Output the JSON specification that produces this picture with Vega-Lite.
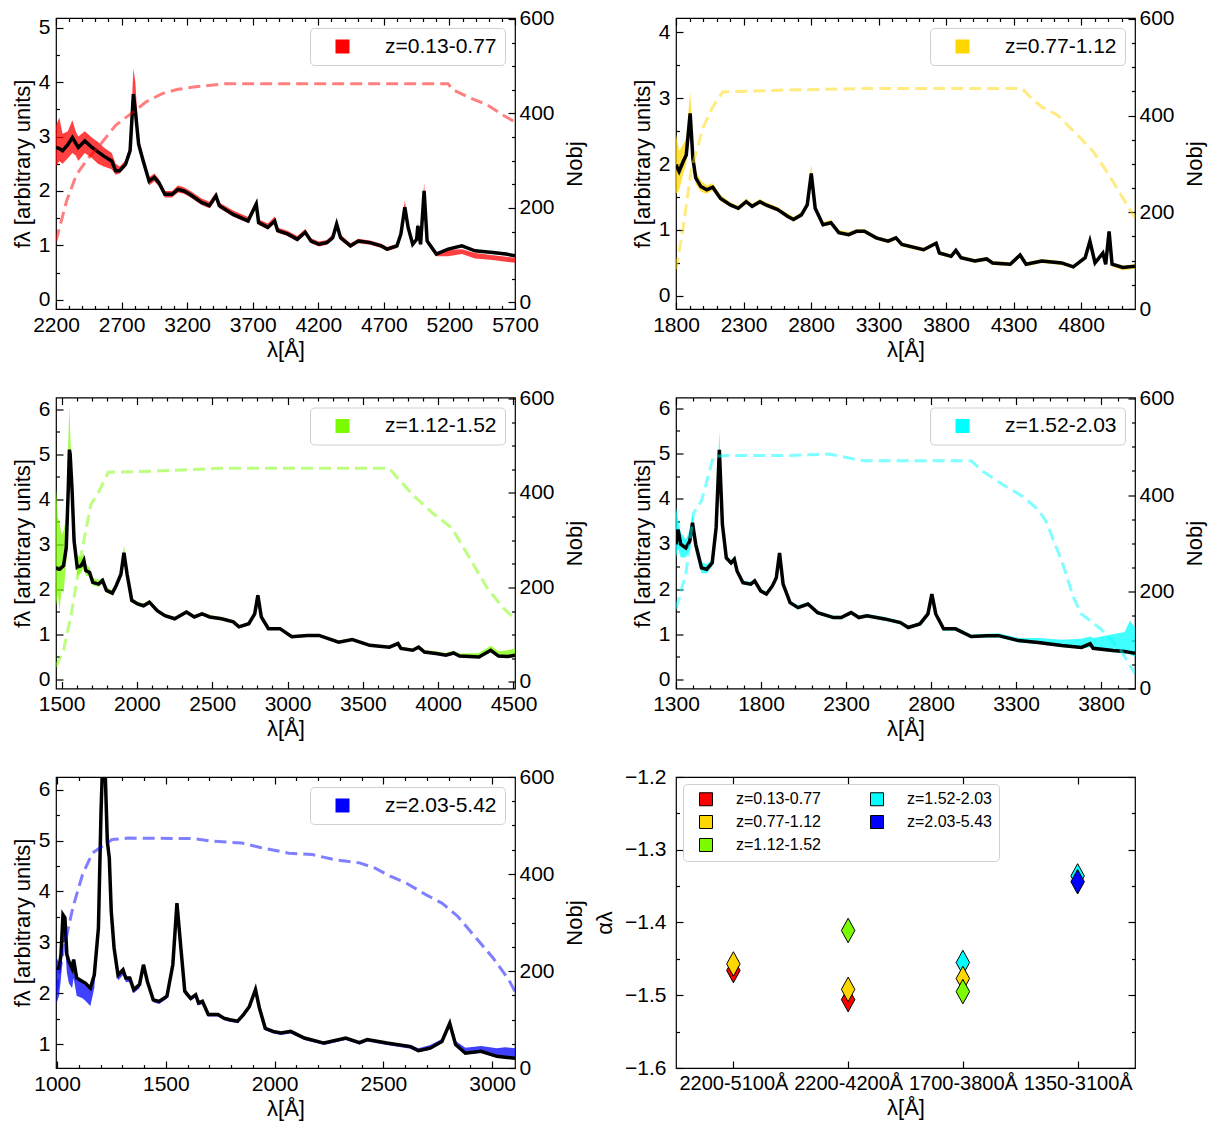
{
"$schema": "https://vega.github.io/schema/vega-lite/v6.json",
"padding": {"left": 10, "top": 7, "right": 5, "bottom": 5},
"config": {
  "font": "Liberation Sans",
  "view": {"stroke": "black", "strokeWidth": 1.2},
  "axis": {"domain": false, "grid": false, "tickColor": "black", "tickWidth": 1.2, "labelColor": "black", "titleColor": "black", "labelFont": "Liberation Sans", "titleFont": "Liberation Sans", "labelFontSize": 21, "titleFontSize": 22, "titleFontWeight": "normal", "labelFlush": false, "labelOverlap": false, "labelBound": false},
  "legend": {"labelColor": "black", "labelFont": "Liberation Sans"}
},
"datasets": {
"s1": [
{"x":2200,"y":2.80,"lo":2.45,"hi":3.20},{"x":2225,"y":2.78,"lo":2.55,"hi":3.35},{"x":2250,"y":2.74,"lo":2.50,"hi":3.05},{"x":2290,"y":2.85,"lo":2.60,"hi":3.10},{"x":2325,"y":2.98,"lo":2.70,"hi":3.30},{"x":2350,"y":2.88,"lo":2.65,"hi":3.10},{"x":2370,"y":2.80,"lo":2.55,"hi":3.00},{"x":2420,"y":2.92,"lo":2.70,"hi":3.10},{"x":2475,"y":2.80,"lo":2.60,"hi":2.98},{"x":2520,"y":2.72,"lo":2.50,"hi":2.90},{"x":2565,"y":2.64,"lo":2.45,"hi":2.80},{"x":2625,"y":2.55,"lo":2.40,"hi":2.70},{"x":2655,"y":2.37,"lo":2.30,"hi":2.50},{"x":2685,"y":2.37,"lo":2.32,"hi":2.45},{"x":2730,"y":2.49,"lo":2.44,"hi":2.56},{"x":2765,"y":2.74,"lo":2.65,"hi":2.85},{"x":2790,"y":3.78,"lo":3.60,"hi":4.25},{"x":2805,"y":3.47,"lo":3.35,"hi":4.00},{"x":2830,"y":2.86,"lo":2.80,"hi":3.00},{"x":2865,"y":2.55,"lo":2.50,"hi":2.62},{"x":2910,"y":2.18,"lo":2.10,"hi":2.25},{"x":2950,"y":2.25,"lo":2.18,"hi":2.32},{"x":2985,"y":2.15,"lo":2.08,"hi":2.22},{"x":3030,"y":1.94,"lo":1.88,"hi":2.00},{"x":3085,"y":1.94,"lo":1.88,"hi":2.00},{"x":3130,"y":2.03,"lo":1.97,"hi":2.10},{"x":3175,"y":2.00,"lo":1.95,"hi":2.07},{"x":3220,"y":1.94,"lo":1.89,"hi":2.01},{"x":3310,"y":1.79,"lo":1.74,"hi":1.86},{"x":3370,"y":1.73,"lo":1.68,"hi":1.80},{"x":3420,"y":1.91,"lo":1.85,"hi":1.98},{"x":3445,"y":1.73,"lo":1.68,"hi":1.79},{"x":3550,"y":1.57,"lo":1.53,"hi":1.64},{"x":3665,"y":1.45,"lo":1.41,"hi":1.52},{"x":3727,"y":1.76,"lo":1.70,"hi":1.82},{"x":3745,"y":1.42,"lo":1.38,"hi":1.48},{"x":3815,"y":1.33,"lo":1.29,"hi":1.40},{"x":3868,"y":1.45,"lo":1.41,"hi":1.53},{"x":3890,"y":1.27,"lo":1.23,"hi":1.33},{"x":3965,"y":1.21,"lo":1.17,"hi":1.27},{"x":4040,"y":1.11,"lo":1.07,"hi":1.17},{"x":4100,"y":1.24,"lo":1.20,"hi":1.30},{"x":4145,"y":1.08,"lo":1.04,"hi":1.13},{"x":4205,"y":1.02,"lo":0.98,"hi":1.07},{"x":4265,"y":1.05,"lo":1.01,"hi":1.10},{"x":4310,"y":1.14,"lo":1.10,"hi":1.20},{"x":4340,"y":1.39,"lo":1.35,"hi":1.46},{"x":4370,"y":1.14,"lo":1.10,"hi":1.20},{"x":4445,"y":0.99,"lo":0.95,"hi":1.04},{"x":4505,"y":1.08,"lo":1.04,"hi":1.12},{"x":4595,"y":1.05,"lo":1.01,"hi":1.09},{"x":4680,"y":0.99,"lo":0.95,"hi":1.03},{"x":4725,"y":0.93,"lo":0.89,"hi":0.97},{"x":4800,"y":0.99,"lo":0.95,"hi":1.03},{"x":4830,"y":1.21,"lo":1.17,"hi":1.27},{"x":4860,"y":1.70,"lo":1.66,"hi":1.82},{"x":4885,"y":1.33,"lo":1.30,"hi":1.42},{"x":4920,"y":1.02,"lo":0.98,"hi":1.06},{"x":4950,"y":1.11,"lo":1.07,"hi":1.15},{"x":4959,"y":1.36,"lo":1.32,"hi":1.42},{"x":4980,"y":1.02,"lo":0.98,"hi":1.06},{"x":5007,"y":2.00,"lo":1.96,"hi":2.15},{"x":5030,"y":1.08,"lo":1.02,"hi":1.12},{"x":5100,"y":0.84,"lo":0.80,"hi":0.88},{"x":5190,"y":0.93,"lo":0.80,"hi":0.92},{"x":5295,"y":0.99,"lo":0.84,"hi":0.93},{"x":5395,"y":0.90,"lo":0.76,"hi":0.86},{"x":5530,"y":0.87,"lo":0.73,"hi":0.82},{"x":5630,"y":0.84,"lo":0.70,"hi":0.79},{"x":5700,"y":0.81,"lo":0.68,"hi":0.77}
],
"n1": [
{"x":2200,"n":130},{"x":2280,"n":214},{"x":2355,"n":270},{"x":2445,"n":305},{"x":2535,"n":333},{"x":2655,"n":375},{"x":2775,"n":400},{"x":2890,"n":425},{"x":3010,"n":442},{"x":3130,"n":451},{"x":3250,"n":456},{"x":3490,"n":463},{"x":5190,"n":463},{"x":5220,"n":451},{"x":5340,"n":435},{"x":5490,"n":418},{"x":5610,"n":396},{"x":5700,"n":382}
],
"s2": [
{"x":1800,"y":1.99,"lo":1.55,"hi":2.45},{"x":1823,"y":1.89,"lo":1.60,"hi":2.20},{"x":1853,"y":2.04,"lo":1.85,"hi":2.30},{"x":1876,"y":2.14,"lo":2.00,"hi":2.40},{"x":1905,"y":2.77,"lo":2.60,"hi":3.10},{"x":1925,"y":2.09,"lo":1.95,"hi":2.30},{"x":1946,"y":1.79,"lo":1.70,"hi":1.90},{"x":1984,"y":1.66,"lo":1.58,"hi":1.75},{"x":2028,"y":1.61,"lo":1.55,"hi":1.68},{"x":2072,"y":1.65,"lo":1.60,"hi":1.71},{"x":2130,"y":1.48,"lo":1.44,"hi":1.53},{"x":2203,"y":1.38,"lo":1.35,"hi":1.42},{"x":2261,"y":1.33,"lo":1.30,"hi":1.37},{"x":2320,"y":1.43,"lo":1.40,"hi":1.48},{"x":2364,"y":1.36,"lo":1.33,"hi":1.40},{"x":2422,"y":1.43,"lo":1.40,"hi":1.47},{"x":2466,"y":1.38,"lo":1.35,"hi":1.42},{"x":2553,"y":1.31,"lo":1.28,"hi":1.35},{"x":2626,"y":1.21,"lo":1.18,"hi":1.25},{"x":2670,"y":1.16,"lo":1.13,"hi":1.20},{"x":2729,"y":1.23,"lo":1.20,"hi":1.27},{"x":2772,"y":1.38,"lo":1.35,"hi":1.43},{"x":2802,"y":1.86,"lo":1.82,"hi":2.00},{"x":2831,"y":1.33,"lo":1.30,"hi":1.38},{"x":2889,"y":1.08,"lo":1.05,"hi":1.12},{"x":2948,"y":1.11,"lo":1.08,"hi":1.15},{"x":3006,"y":0.96,"lo":0.93,"hi":1.00},{"x":3079,"y":0.93,"lo":0.90,"hi":0.97},{"x":3137,"y":0.98,"lo":0.95,"hi":1.01},{"x":3196,"y":0.98,"lo":0.95,"hi":1.01},{"x":3283,"y":0.88,"lo":0.85,"hi":0.91},{"x":3371,"y":0.83,"lo":0.80,"hi":0.86},{"x":3429,"y":0.88,"lo":0.85,"hi":0.91},{"x":3473,"y":0.78,"lo":0.75,"hi":0.81},{"x":3634,"y":0.70,"lo":0.67,"hi":0.73},{"x":3727,"y":0.80,"lo":0.77,"hi":0.83},{"x":3751,"y":0.65,"lo":0.62,"hi":0.68},{"x":3838,"y":0.60,"lo":0.57,"hi":0.63},{"x":3873,"y":0.69,"lo":0.66,"hi":0.72},{"x":3911,"y":0.58,"lo":0.55,"hi":0.61},{"x":4013,"y":0.53,"lo":0.50,"hi":0.56},{"x":4101,"y":0.56,"lo":0.53,"hi":0.59},{"x":4145,"y":0.50,"lo":0.47,"hi":0.53},{"x":4276,"y":0.48,"lo":0.45,"hi":0.51},{"x":4349,"y":0.62,"lo":0.59,"hi":0.65},{"x":4393,"y":0.48,"lo":0.45,"hi":0.51},{"x":4510,"y":0.53,"lo":0.50,"hi":0.56},{"x":4656,"y":0.50,"lo":0.47,"hi":0.53},{"x":4743,"y":0.44,"lo":0.41,"hi":0.47},{"x":4831,"y":0.58,"lo":0.55,"hi":0.61},{"x":4866,"y":0.83,"lo":0.80,"hi":0.86},{"x":4904,"y":0.50,"lo":0.47,"hi":0.53},{"x":4962,"y":0.65,"lo":0.62,"hi":0.68},{"x":4983,"y":0.48,"lo":0.45,"hi":0.51},{"x":5008,"y":0.98,"lo":0.95,"hi":1.00},{"x":5030,"y":0.48,"lo":0.44,"hi":0.51},{"x":5110,"y":0.43,"lo":0.39,"hi":0.46},{"x":5200,"y":0.45,"lo":0.41,"hi":0.48}
],
"n2": [
{"x":1800,"n":82},{"x":1853,"n":168},{"x":1911,"n":285},{"x":1999,"n":374},{"x":2072,"n":418},{"x":2145,"n":449},{"x":2612,"n":453},{"x":3196,"n":456},{"x":4364,"n":456},{"x":4437,"n":435},{"x":4510,"n":418},{"x":4627,"n":401},{"x":4773,"n":360},{"x":4890,"n":326},{"x":5006,"n":278},{"x":5094,"n":237},{"x":5200,"n":189}
],
"s3": [
{"x":1462,"y":2.48,"lo":1.60,"hi":4.30},{"x":1475,"y":2.45,"lo":1.90,"hi":3.60},{"x":1487,"y":2.44,"lo":1.50,"hi":3.50},{"x":1500,"y":2.48,"lo":2.00,"hi":3.20},{"x":1513,"y":2.52,"lo":1.90,"hi":3.30},{"x":1531,"y":2.92,"lo":2.60,"hi":3.60},{"x":1544,"y":4.18,"lo":3.80,"hi":5.20},{"x":1552,"y":5.10,"lo":4.80,"hi":6.10},{"x":1557,"y":5.00,"lo":4.70,"hi":5.50},{"x":1570,"y":4.18,"lo":3.90,"hi":4.40},{"x":1583,"y":3.07,"lo":2.85,"hi":3.40},{"x":1604,"y":2.48,"lo":2.30,"hi":2.75},{"x":1630,"y":2.52,"lo":2.35,"hi":2.70},{"x":1648,"y":2.64,"lo":2.50,"hi":2.80},{"x":1661,"y":2.41,"lo":2.30,"hi":2.55},{"x":1686,"y":2.37,"lo":2.28,"hi":2.48},{"x":1707,"y":2.15,"lo":2.08,"hi":2.25},{"x":1746,"y":2.11,"lo":2.05,"hi":2.20},{"x":1772,"y":2.19,"lo":2.12,"hi":2.26},{"x":1798,"y":1.97,"lo":1.92,"hi":2.04},{"x":1837,"y":1.91,"lo":1.87,"hi":1.97},{"x":1863,"y":2.08,"lo":2.03,"hi":2.14},{"x":1894,"y":2.33,"lo":2.28,"hi":2.40},{"x":1914,"y":2.81,"lo":2.75,"hi":2.98},{"x":1935,"y":2.33,"lo":2.28,"hi":2.40},{"x":1966,"y":1.75,"lo":1.71,"hi":1.80},{"x":2005,"y":1.67,"lo":1.63,"hi":1.72},{"x":2044,"y":1.63,"lo":1.59,"hi":1.68},{"x":2083,"y":1.71,"lo":1.67,"hi":1.76},{"x":2135,"y":1.52,"lo":1.48,"hi":1.57},{"x":2186,"y":1.41,"lo":1.38,"hi":1.45},{"x":2251,"y":1.34,"lo":1.31,"hi":1.38},{"x":2329,"y":1.49,"lo":1.46,"hi":1.53},{"x":2381,"y":1.38,"lo":1.35,"hi":1.42},{"x":2432,"y":1.45,"lo":1.42,"hi":1.49},{"x":2484,"y":1.38,"lo":1.35,"hi":1.42},{"x":2562,"y":1.34,"lo":1.31,"hi":1.38},{"x":2640,"y":1.27,"lo":1.24,"hi":1.31},{"x":2678,"y":1.16,"lo":1.13,"hi":1.20},{"x":2743,"y":1.23,"lo":1.20,"hi":1.27},{"x":2782,"y":1.45,"lo":1.42,"hi":1.50},{"x":2803,"y":1.86,"lo":1.82,"hi":1.95},{"x":2826,"y":1.38,"lo":1.35,"hi":1.43},{"x":2873,"y":1.12,"lo":1.09,"hi":1.16},{"x":2950,"y":1.12,"lo":1.09,"hi":1.16},{"x":3028,"y":0.94,"lo":0.91,"hi":0.98},{"x":3132,"y":0.97,"lo":0.94,"hi":1.00},{"x":3209,"y":0.97,"lo":0.94,"hi":1.00},{"x":3339,"y":0.82,"lo":0.79,"hi":0.86},{"x":3430,"y":0.88,"lo":0.85,"hi":0.91},{"x":3546,"y":0.75,"lo":0.72,"hi":0.78},{"x":3676,"y":0.71,"lo":0.68,"hi":0.74},{"x":3733,"y":0.79,"lo":0.76,"hi":0.82},{"x":3753,"y":0.68,"lo":0.65,"hi":0.71},{"x":3831,"y":0.64,"lo":0.61,"hi":0.68},{"x":3870,"y":0.71,"lo":0.68,"hi":0.75},{"x":3909,"y":0.60,"lo":0.57,"hi":0.64},{"x":3986,"y":0.57,"lo":0.54,"hi":0.62},{"x":4051,"y":0.53,"lo":0.50,"hi":0.58},{"x":4102,"y":0.58,"lo":0.55,"hi":0.63},{"x":4142,"y":0.51,"lo":0.48,"hi":0.57},{"x":4271,"y":0.49,"lo":0.46,"hi":0.58},{"x":4349,"y":0.64,"lo":0.60,"hi":0.74},{"x":4401,"y":0.51,"lo":0.48,"hi":0.62},{"x":4460,"y":0.50,"lo":0.47,"hi":0.64},{"x":4510,"y":0.53,"lo":0.49,"hi":0.68}
],
"n3": [
{"x":1462,"n":32},{"x":1513,"n":67},{"x":1565,"n":144},{"x":1630,"n":270},{"x":1694,"n":375},{"x":1746,"n":402},{"x":1811,"n":444},{"x":2122,"n":446},{"x":2536,"n":452},{"x":3676,"n":452},{"x":3702,"n":442},{"x":3831,"n":396},{"x":3961,"n":358},{"x":4090,"n":326},{"x":4194,"n":270},{"x":4323,"n":200},{"x":4427,"n":158},{"x":4510,"n":133}
],
"s4": [
{"x":1300,"y":2.99,"lo":2.70,"hi":3.80},{"x":1312,"y":3.32,"lo":2.90,"hi":3.55},{"x":1328,"y":2.99,"lo":2.70,"hi":3.25},{"x":1358,"y":2.91,"lo":2.70,"hi":3.10},{"x":1381,"y":3.06,"lo":2.90,"hi":3.30},{"x":1397,"y":3.47,"lo":3.30,"hi":3.65},{"x":1416,"y":2.99,"lo":2.80,"hi":3.15},{"x":1450,"y":2.47,"lo":2.35,"hi":2.60},{"x":1481,"y":2.44,"lo":2.35,"hi":2.55},{"x":1513,"y":2.58,"lo":2.50,"hi":2.66},{"x":1536,"y":3.36,"lo":3.25,"hi":3.50},{"x":1555,"y":5.08,"lo":4.90,"hi":5.50},{"x":1573,"y":3.43,"lo":3.35,"hi":3.55},{"x":1596,"y":2.69,"lo":2.63,"hi":2.76},{"x":1624,"y":2.58,"lo":2.53,"hi":2.64},{"x":1643,"y":2.66,"lo":2.61,"hi":2.72},{"x":1659,"y":2.40,"lo":2.35,"hi":2.46},{"x":1694,"y":2.14,"lo":2.10,"hi":2.19},{"x":1740,"y":2.11,"lo":2.07,"hi":2.16},{"x":1763,"y":2.18,"lo":2.14,"hi":2.23},{"x":1798,"y":1.96,"lo":1.92,"hi":2.01},{"x":1832,"y":1.89,"lo":1.85,"hi":1.94},{"x":1867,"y":2.07,"lo":2.03,"hi":2.12},{"x":1890,"y":2.25,"lo":2.21,"hi":2.30},{"x":1909,"y":2.80,"lo":2.75,"hi":2.85},{"x":1930,"y":2.11,"lo":2.07,"hi":2.16},{"x":1971,"y":1.70,"lo":1.66,"hi":1.75},{"x":2018,"y":1.59,"lo":1.55,"hi":1.64},{"x":2076,"y":1.67,"lo":1.63,"hi":1.71},{"x":2133,"y":1.48,"lo":1.44,"hi":1.52},{"x":2226,"y":1.37,"lo":1.33,"hi":1.41},{"x":2272,"y":1.37,"lo":1.33,"hi":1.41},{"x":2330,"y":1.48,"lo":1.44,"hi":1.52},{"x":2376,"y":1.37,"lo":1.33,"hi":1.41},{"x":2423,"y":1.41,"lo":1.37,"hi":1.45},{"x":2527,"y":1.34,"lo":1.30,"hi":1.38},{"x":2620,"y":1.26,"lo":1.22,"hi":1.30},{"x":2666,"y":1.15,"lo":1.12,"hi":1.19},{"x":2735,"y":1.23,"lo":1.19,"hi":1.27},{"x":2782,"y":1.45,"lo":1.41,"hi":1.49},{"x":2805,"y":1.89,"lo":1.84,"hi":1.92},{"x":2828,"y":1.45,"lo":1.41,"hi":1.49},{"x":2874,"y":1.12,"lo":1.08,"hi":1.16},{"x":2944,"y":1.12,"lo":1.08,"hi":1.16},{"x":3036,"y":0.95,"lo":0.91,"hi":0.99},{"x":3129,"y":0.97,"lo":0.93,"hi":1.01},{"x":3198,"y":0.97,"lo":0.93,"hi":1.02},{"x":3314,"y":0.86,"lo":0.82,"hi":0.92},{"x":3430,"y":0.82,"lo":0.79,"hi":0.92},{"x":3569,"y":0.75,"lo":0.72,"hi":0.88},{"x":3685,"y":0.71,"lo":0.68,"hi":0.90},{"x":3736,"y":0.79,"lo":0.72,"hi":0.95},{"x":3754,"y":0.69,"lo":0.66,"hi":0.92},{"x":3870,"y":0.64,"lo":0.60,"hi":1.00},{"x":3939,"y":0.62,"lo":0.58,"hi":1.05},{"x":3970,"y":0.60,"lo":0.55,"hi":1.30},{"x":4000,"y":0.58,"lo":0.50,"hi":1.15}
],
"n4": [
{"x":1300,"n":165},{"x":1358,"n":237},{"x":1404,"n":364},{"x":1450,"n":388},{"x":1520,"n":480},{"x":1601,"n":482},{"x":1948,"n":482},{"x":2203,"n":485},{"x":2342,"n":475},{"x":2411,"n":471},{"x":3036,"n":471},{"x":3106,"n":449},{"x":3221,"n":422},{"x":3337,"n":398},{"x":3430,"n":370},{"x":3476,"n":346},{"x":3569,"n":264},{"x":3638,"n":189},{"x":3685,"n":154},{"x":3800,"n":123},{"x":3916,"n":79},{"x":4000,"n":31}
],
"s5": [
{"x":997,"y":2.49,"lo":1.80,"hi":2.70},{"x":1009,"y":2.49,"lo":1.95,"hi":2.60},{"x":1018,"y":2.76,"lo":2.30,"hi":2.80},{"x":1027,"y":3.54,"lo":3.00,"hi":3.55},{"x":1036,"y":3.48,"lo":3.00,"hi":3.50},{"x":1045,"y":2.76,"lo":2.40,"hi":2.80},{"x":1054,"y":2.63,"lo":2.20,"hi":2.65},{"x":1069,"y":2.49,"lo":2.10,"hi":2.50},{"x":1076,"y":2.66,"lo":2.30,"hi":2.68},{"x":1090,"y":2.30,"lo":1.95,"hi":2.32},{"x":1117,"y":2.23,"lo":1.90,"hi":2.25},{"x":1130,"y":2.20,"lo":1.85,"hi":2.22},{"x":1153,"y":2.10,"lo":1.75,"hi":2.12},{"x":1171,"y":2.36,"lo":2.10,"hi":2.38},{"x":1190,"y":3.28,"lo":3.10,"hi":3.30},{"x":1202,"y":5.57,"lo":5.40,"hi":5.60},{"x":1209,"y":6.50,"lo":6.30,"hi":6.50},{"x":1220,"y":6.50,"lo":6.30,"hi":6.50},{"x":1231,"y":4.98,"lo":4.80,"hi":5.00},{"x":1240,"y":4.66,"lo":4.50,"hi":4.68},{"x":1249,"y":3.61,"lo":3.45,"hi":3.62},{"x":1262,"y":2.89,"lo":2.75,"hi":2.90},{"x":1280,"y":2.36,"lo":2.25,"hi":2.38},{"x":1303,"y":2.46,"lo":2.36,"hi":2.48},{"x":1316,"y":2.30,"lo":2.22,"hi":2.32},{"x":1334,"y":2.30,"lo":2.22,"hi":2.32},{"x":1352,"y":2.07,"lo":2.00,"hi":2.09},{"x":1379,"y":2.17,"lo":2.10,"hi":2.19},{"x":1397,"y":2.56,"lo":2.48,"hi":2.58},{"x":1415,"y":2.23,"lo":2.17,"hi":2.25},{"x":1442,"y":1.87,"lo":1.82,"hi":1.89},{"x":1469,"y":1.84,"lo":1.79,"hi":1.86},{"x":1505,"y":1.94,"lo":1.89,"hi":1.96},{"x":1532,"y":2.56,"lo":2.48,"hi":2.58},{"x":1551,"y":3.77,"lo":3.60,"hi":3.78},{"x":1569,"y":2.89,"lo":2.80,"hi":2.91},{"x":1587,"y":2.04,"lo":1.98,"hi":2.06},{"x":1614,"y":1.90,"lo":1.85,"hi":1.92},{"x":1637,"y":1.97,"lo":1.92,"hi":1.99},{"x":1650,"y":1.81,"lo":1.76,"hi":1.83},{"x":1668,"y":1.84,"lo":1.79,"hi":1.86},{"x":1695,"y":1.58,"lo":1.54,"hi":1.60},{"x":1740,"y":1.58,"lo":1.54,"hi":1.60},{"x":1767,"y":1.51,"lo":1.47,"hi":1.53},{"x":1794,"y":1.48,"lo":1.44,"hi":1.50},{"x":1830,"y":1.45,"lo":1.41,"hi":1.47},{"x":1857,"y":1.58,"lo":1.54,"hi":1.60},{"x":1884,"y":1.74,"lo":1.70,"hi":1.76},{"x":1912,"y":2.07,"lo":2.00,"hi":2.09},{"x":1930,"y":1.71,"lo":1.67,"hi":1.73},{"x":1957,"y":1.31,"lo":1.27,"hi":1.33},{"x":1993,"y":1.25,"lo":1.21,"hi":1.27},{"x":2029,"y":1.22,"lo":1.18,"hi":1.24},{"x":2074,"y":1.25,"lo":1.21,"hi":1.27},{"x":2137,"y":1.12,"lo":1.08,"hi":1.14},{"x":2227,"y":1.02,"lo":0.98,"hi":1.04},{"x":2327,"y":1.12,"lo":1.08,"hi":1.14},{"x":2390,"y":1.03,"lo":0.99,"hi":1.05},{"x":2426,"y":1.09,"lo":1.05,"hi":1.11},{"x":2516,"y":1.02,"lo":0.98,"hi":1.04},{"x":2625,"y":0.95,"lo":0.91,"hi":0.98},{"x":2661,"y":0.87,"lo":0.84,"hi":0.92},{"x":2715,"y":0.92,"lo":0.89,"hi":0.98},{"x":2769,"y":1.05,"lo":1.02,"hi":1.10},{"x":2805,"y":1.41,"lo":1.37,"hi":1.46},{"x":2832,"y":0.99,"lo":0.96,"hi":1.06},{"x":2877,"y":0.82,"lo":0.80,"hi":0.93},{"x":2949,"y":0.86,"lo":0.83,"hi":0.96},{"x":3022,"y":0.76,"lo":0.73,"hi":0.92},{"x":3060,"y":0.74,"lo":0.72,"hi":0.94},{"x":3105,"y":0.72,"lo":0.70,"hi":0.92}
],
"n5": [
{"x":997,"n":158},{"x":1027,"n":237},{"x":1072,"n":330},{"x":1117,"n":399},{"x":1162,"n":443},{"x":1207,"n":457},{"x":1253,"n":471},{"x":1325,"n":474},{"x":1632,"n":473},{"x":1704,"n":468},{"x":1848,"n":464},{"x":1939,"n":454},{"x":2065,"n":443},{"x":2173,"n":440},{"x":2281,"n":429},{"x":2390,"n":423},{"x":2462,"n":412},{"x":2534,"n":395},{"x":2606,"n":381},{"x":2697,"n":357},{"x":2769,"n":340},{"x":2841,"n":313},{"x":2913,"n":275},{"x":3004,"n":227},{"x":3076,"n":182},{"x":3105,"n":158}
],
"alpha": [
{"r":"2200-5100Å","z":"z=0.13-0.77","a":-1.466},
{"r":"2200-5100Å","z":"z=0.77-1.12","a":-1.457},
{"r":"2200-4200Å","z":"z=0.13-0.77","a":-1.506},
{"r":"2200-4200Å","z":"z=0.77-1.12","a":-1.492},
{"r":"2200-4200Å","z":"z=1.12-1.52","a":-1.411},
{"r":"1700-3800Å","z":"z=1.52-2.03","a":-1.455},
{"r":"1700-3800Å","z":"z=0.77-1.12","a":-1.477},
{"r":"1700-3800Å","z":"z=1.12-1.52","a":-1.495},
{"r":"1350-3100Å","z":"z=1.52-2.03","a":-1.336},
{"r":"1350-3100Å","z":"z=2.03-5.43","a":-1.344}
]
},
"columns": 2,
"spacing": {"row": 88.5, "column": 161},
"bounds": "flush",
"resolve": {"scale": {"color": "independent"}},
"concat": [
{
 "width": 459, "height": 291,
 "resolve": {"scale": {"y": "independent"}, "axis": {"x": "independent", "y": "independent"}},
 "layer": [
  {"data": {"name": "s1"},
   "mark": {"type": "area", "opacity": 0.75, "clip": true},
   "encoding": {
    "x": {"field": "x", "type": "quantitative", "scale": {"domain": [2200, 5700], "nice": false, "zero": false},
          "axis": {"orient": "bottom", "values": [2200,2700,3200,3700,4200,4700,5200,5700], "tickSize": -7, "labelPadding": 12, "format": "d", "title": "λ[Å]", "titlePadding": 4}},
    "y": {"field": "lo", "type": "quantitative", "scale": {"domain": [-0.17, 5.18], "nice": false, "zero": false},
          "axis": {"orient": "left", "values": [0,1,2,3,4,5], "tickSize": -7, "labelPadding": 13, "format": "d", "title": "fλ [arbitrary units]", "titlePadding": 4}},
    "y2": {"field": "hi"},
    "color": {"datum": "z=0.13-0.77", "type": "nominal", "scale": {"range": ["#ff0000"]},
              "legend": {"title": null, "orient": "top-right", "offset": 10, "symbolType": "square", "symbolSize": 196, "symbolOpacity": 1, "symbolStrokeWidth": 0, "labelFontSize": 21, "labelOffset": 32, "symbolOffset": 14, "padding": 8, "strokeColor": "#d0d0d0", "cornerRadius": 4, "fillColor": "white"}}
   }},
  {"data": {"name": "s1"},
   "mark": {"type": "line", "color": "black", "strokeWidth": 3.5, "clip": true},
   "encoding": {
    "x": {"field": "x", "type": "quantitative", "scale": {"domain": [2200, 5700], "nice": false, "zero": false}, "axis": null},
    "y": {"field": "y", "type": "quantitative", "scale": {"domain": [-0.17, 5.18], "nice": false, "zero": false}, "axis": null}
   }},
  {"data": {"name": "n1"},
   "mark": {"type": "line", "color": "#ff0000", "opacity": 0.5, "strokeWidth": 3, "strokeDash": [12, 6], "clip": true},
   "encoding": {
    "x": {"field": "x", "type": "quantitative", "scale": {"domain": [2200, 5700], "nice": false, "zero": false},
          "axis": {"orient": "top", "values": [2200,2700,3200,3700,4200,4700,5200,5700], "tickSize": -7, "labels": false, "title": null}},
    "y": {"field": "n", "type": "quantitative", "scale": {"domain": [-14, 602], "nice": false, "zero": false},
          "axis": {"orient": "right", "values": [0,200,400,600], "tickSize": -7, "labelPadding": 11, "format": "d", "title": "Nobj", "titleAngle": 270, "titleBaseline": "top", "titlePadding": 10}}
   }},
  {"data": {"name": "n1"},
   "mark": {"type": "point", "opacity": 0, "clip": true},
   "encoding": {
    "x": {"field": "x", "type": "quantitative", "scale": {"domain": [2200, 5700], "nice": false, "zero": false},
          "axis": {"orient": "bottom", "values": [2300,2400,2500,2600,2800,2900,3000,3100,3300,3400,3500,3600,3800,3900,4000,4100,4300,4400,4500,4600,4800,4900,5000,5100,5300,5400,5500,5600], "tickSize": -3.5, "labels": false, "title": null}},
    "y": {"field": "n", "type": "quantitative", "scale": {"domain": [-0.17, 5.18], "nice": false, "zero": false},
          "axis": {"orient": "left", "values": [0.5,1.5,2.5,3.5,4.5], "tickSize": -3.5, "labels": false, "title": null}}
   }},
  {"data": {"name": "n1"},
   "mark": {"type": "point", "opacity": 0, "clip": true},
   "encoding": {
    "x": {"field": "x", "type": "quantitative", "scale": {"domain": [2200, 5700], "nice": false, "zero": false},
          "axis": {"orient": "top", "values": [2300,2400,2500,2600,2800,2900,3000,3100,3300,3400,3500,3600,3800,3900,4000,4100,4300,4400,4500,4600,4800,4900,5000,5100,5300,5400,5500,5600], "tickSize": -3.5, "labels": false, "title": null}},
    "y": {"field": "n", "type": "quantitative", "scale": {"domain": [-14, 602], "nice": false, "zero": false},
          "axis": {"orient": "right", "values": [50,100,150,250,300,350,450,500,550], "tickSize": -3.5, "labels": false, "title": null}}
   }}
 ]
},
{
 "width": 459, "height": 291,
 "resolve": {"scale": {"y": "independent"}, "axis": {"x": "independent", "y": "independent"}},
 "layer": [
  {"data": {"name": "s2"},
   "mark": {"type": "area", "opacity": 0.75, "clip": true},
   "encoding": {
    "x": {"field": "x", "type": "quantitative", "scale": {"domain": [1800, 5200], "nice": false, "zero": false},
          "axis": {"orient": "bottom", "values": [1800,2300,2800,3300,3800,4300,4800], "tickSize": -7, "labelPadding": 12, "format": "d", "title": "λ[Å]", "titlePadding": 4}},
    "y": {"field": "lo", "type": "quantitative", "scale": {"domain": [-0.2, 4.22], "nice": false, "zero": false},
          "axis": {"orient": "left", "values": [0,1,2,3,4], "tickSize": -7, "labelPadding": 13, "format": "d", "title": "fλ [arbitrary units]", "titlePadding": 4}},
    "y2": {"field": "hi"},
    "color": {"datum": "z=0.77-1.12", "type": "nominal", "scale": {"range": ["#ffd700"]},
              "legend": {"title": null, "orient": "top-right", "offset": 10, "symbolType": "square", "symbolSize": 196, "symbolOpacity": 1, "symbolStrokeWidth": 0, "labelFontSize": 21, "labelOffset": 32, "symbolOffset": 14, "padding": 8, "strokeColor": "#d0d0d0", "cornerRadius": 4, "fillColor": "white"}}
   }},
  {"data": {"name": "s2"},
   "mark": {"type": "line", "color": "black", "strokeWidth": 3.5, "clip": true},
   "encoding": {
    "x": {"field": "x", "type": "quantitative", "scale": {"domain": [1800, 5200], "nice": false, "zero": false}, "axis": null},
    "y": {"field": "y", "type": "quantitative", "scale": {"domain": [-0.2, 4.22], "nice": false, "zero": false}, "axis": null}
   }},
  {"data": {"name": "n2"},
   "mark": {"type": "line", "color": "#ffd700", "opacity": 0.5, "strokeWidth": 3, "strokeDash": [12, 6], "clip": true},
   "encoding": {
    "x": {"field": "x", "type": "quantitative", "scale": {"domain": [1800, 5200], "nice": false, "zero": false},
          "axis": {"orient": "top", "values": [1800,2300,2800,3300,3800,4300,4800], "tickSize": -7, "labels": false, "title": null}},
    "y": {"field": "n", "type": "quantitative", "scale": {"domain": [0, 602], "nice": false, "zero": false},
          "axis": {"orient": "right", "values": [0,200,400,600], "tickSize": -7, "labelPadding": 11, "format": "d", "title": "Nobj", "titleAngle": 270, "titleBaseline": "top", "titlePadding": 10}}
   }},
  {"data": {"name": "n2"},
   "mark": {"type": "point", "opacity": 0, "clip": true},
   "encoding": {
    "x": {"field": "x", "type": "quantitative", "scale": {"domain": [1800, 5200], "nice": false, "zero": false},
          "axis": {"orient": "bottom", "values": [1900,2000,2100,2200,2400,2500,2600,2700,2900,3000,3100,3200,3400,3500,3600,3700,3900,4000,4100,4200,4400,4500,4600,4700,4900,5000,5100], "tickSize": -3.5, "labels": false, "title": null}},
    "y": {"field": "n", "type": "quantitative", "scale": {"domain": [-0.2, 4.22], "nice": false, "zero": false},
          "axis": {"orient": "left", "values": [0.5,1.5,2.5,3.5], "tickSize": -3.5, "labels": false, "title": null}}
   }},
  {"data": {"name": "n2"},
   "mark": {"type": "point", "opacity": 0, "clip": true},
   "encoding": {
    "x": {"field": "x", "type": "quantitative", "scale": {"domain": [1800, 5200], "nice": false, "zero": false},
          "axis": {"orient": "top", "values": [1900,2000,2100,2200,2400,2500,2600,2700,2900,3000,3100,3200,3400,3500,3600,3700,3900,4000,4100,4200,4400,4500,4600,4700,4900,5000,5100], "tickSize": -3.5, "labels": false, "title": null}},
    "y": {"field": "n", "type": "quantitative", "scale": {"domain": [0, 602], "nice": false, "zero": false},
          "axis": {"orient": "right", "values": [50,100,150,250,300,350,450,500,550], "tickSize": -3.5, "labels": false, "title": null}}
   }}
 ]
},
{
 "width": 459, "height": 291,
 "resolve": {"scale": {"y": "independent"}, "axis": {"x": "independent", "y": "independent"}},
 "layer": [
  {"data": {"name": "s3"},
   "mark": {"type": "area", "opacity": 0.75, "clip": true},
   "encoding": {
    "x": {"field": "x", "type": "quantitative", "scale": {"domain": [1463, 4510], "nice": false, "zero": false},
          "axis": {"orient": "bottom", "values": [1500,2000,2500,3000,3500,4000,4500], "tickSize": -7, "labelPadding": 12, "format": "d", "title": "λ[Å]", "titlePadding": 4}},
    "y": {"field": "lo", "type": "quantitative", "scale": {"domain": [-0.21, 6.26], "nice": false, "zero": false},
          "axis": {"orient": "left", "values": [0,1,2,3,4,5,6], "tickSize": -7, "labelPadding": 13, "format": "d", "title": "fλ [arbitrary units]", "titlePadding": 4}},
    "y2": {"field": "hi"},
    "color": {"datum": "z=1.12-1.52", "type": "nominal", "scale": {"range": ["#7cfc00"]},
              "legend": {"title": null, "orient": "top-right", "offset": 10, "symbolType": "square", "symbolSize": 196, "symbolOpacity": 1, "symbolStrokeWidth": 0, "labelFontSize": 21, "labelOffset": 32, "symbolOffset": 14, "padding": 8, "strokeColor": "#d0d0d0", "cornerRadius": 4, "fillColor": "white"}}
   }},
  {"data": {"name": "s3"},
   "mark": {"type": "line", "color": "black", "strokeWidth": 3.5, "clip": true},
   "encoding": {
    "x": {"field": "x", "type": "quantitative", "scale": {"domain": [1463, 4510], "nice": false, "zero": false}, "axis": null},
    "y": {"field": "y", "type": "quantitative", "scale": {"domain": [-0.21, 6.26], "nice": false, "zero": false}, "axis": null}
   }},
  {"data": {"name": "n3"},
   "mark": {"type": "line", "color": "#7cfc00", "opacity": 0.5, "strokeWidth": 3, "strokeDash": [12, 6], "clip": true},
   "encoding": {
    "x": {"field": "x", "type": "quantitative", "scale": {"domain": [1463, 4510], "nice": false, "zero": false},
          "axis": {"orient": "top", "values": [1500,2000,2500,3000,3500,4000,4500], "tickSize": -7, "labels": false, "title": null}},
    "y": {"field": "n", "type": "quantitative", "scale": {"domain": [-14, 602], "nice": false, "zero": false},
          "axis": {"orient": "right", "values": [0,200,400,600], "tickSize": -7, "labelPadding": 11, "format": "d", "title": "Nobj", "titleAngle": 270, "titleBaseline": "top", "titlePadding": 10}}
   }},
  {"data": {"name": "n3"},
   "mark": {"type": "point", "opacity": 0, "clip": true},
   "encoding": {
    "x": {"field": "x", "type": "quantitative", "scale": {"domain": [1463, 4510], "nice": false, "zero": false},
          "axis": {"orient": "bottom", "values": [1600,1700,1800,1900,2100,2200,2300,2400,2600,2700,2800,2900,3100,3200,3300,3400,3600,3700,3800,3900,4100,4200,4300,4400], "tickSize": -3.5, "labels": false, "title": null}},
    "y": {"field": "n", "type": "quantitative", "scale": {"domain": [-0.21, 6.26], "nice": false, "zero": false},
          "axis": {"orient": "left", "values": [0.5,1.5,2.5,3.5,4.5,5.5], "tickSize": -3.5, "labels": false, "title": null}}
   }},
  {"data": {"name": "n3"},
   "mark": {"type": "point", "opacity": 0, "clip": true},
   "encoding": {
    "x": {"field": "x", "type": "quantitative", "scale": {"domain": [1463, 4510], "nice": false, "zero": false},
          "axis": {"orient": "top", "values": [1600,1700,1800,1900,2100,2200,2300,2400,2600,2700,2800,2900,3100,3200,3300,3400,3600,3700,3800,3900,4100,4200,4300,4400], "tickSize": -3.5, "labels": false, "title": null}},
    "y": {"field": "n", "type": "quantitative", "scale": {"domain": [-14, 602], "nice": false, "zero": false},
          "axis": {"orient": "right", "values": [50,100,150,250,300,350,450,500,550], "tickSize": -3.5, "labels": false, "title": null}}
   }}
 ]
},
{
 "width": 459, "height": 291,
 "resolve": {"scale": {"y": "independent"}, "axis": {"x": "independent", "y": "independent"}},
 "layer": [
  {"data": {"name": "s4"},
   "mark": {"type": "area", "opacity": 0.75, "clip": true},
   "encoding": {
    "x": {"field": "x", "type": "quantitative", "scale": {"domain": [1300, 4000], "nice": false, "zero": false},
          "axis": {"orient": "bottom", "values": [1300,1800,2300,2800,3300,3800], "tickSize": -7, "labelPadding": 12, "format": "d", "title": "λ[Å]", "titlePadding": 4}},
    "y": {"field": "lo", "type": "quantitative", "scale": {"domain": [-0.2, 6.24], "nice": false, "zero": false},
          "axis": {"orient": "left", "values": [0,1,2,3,4,5,6], "tickSize": -7, "labelPadding": 13, "format": "d", "title": "fλ [arbitrary units]", "titlePadding": 4}},
    "y2": {"field": "hi"},
    "color": {"datum": "z=1.52-2.03", "type": "nominal", "scale": {"range": ["#00ffff"]},
              "legend": {"title": null, "orient": "top-right", "offset": 10, "symbolType": "square", "symbolSize": 196, "symbolOpacity": 1, "symbolStrokeWidth": 0, "labelFontSize": 21, "labelOffset": 32, "symbolOffset": 14, "padding": 8, "strokeColor": "#d0d0d0", "cornerRadius": 4, "fillColor": "white"}}
   }},
  {"data": {"name": "s4"},
   "mark": {"type": "line", "color": "black", "strokeWidth": 3.5, "clip": true},
   "encoding": {
    "x": {"field": "x", "type": "quantitative", "scale": {"domain": [1300, 4000], "nice": false, "zero": false}, "axis": null},
    "y": {"field": "y", "type": "quantitative", "scale": {"domain": [-0.2, 6.24], "nice": false, "zero": false}, "axis": null}
   }},
  {"data": {"name": "n4"},
   "mark": {"type": "line", "color": "#00ffff", "opacity": 0.5, "strokeWidth": 3, "strokeDash": [12, 6], "clip": true},
   "encoding": {
    "x": {"field": "x", "type": "quantitative", "scale": {"domain": [1300, 4000], "nice": false, "zero": false},
          "axis": {"orient": "top", "values": [1300,1800,2300,2800,3300,3800], "tickSize": -7, "labels": false, "title": null}},
    "y": {"field": "n", "type": "quantitative", "scale": {"domain": [0, 602], "nice": false, "zero": false},
          "axis": {"orient": "right", "values": [0,200,400,600], "tickSize": -7, "labelPadding": 11, "format": "d", "title": "Nobj", "titleAngle": 270, "titleBaseline": "top", "titlePadding": 10}}
   }},
  {"data": {"name": "n4"},
   "mark": {"type": "point", "opacity": 0, "clip": true},
   "encoding": {
    "x": {"field": "x", "type": "quantitative", "scale": {"domain": [1300, 4000], "nice": false, "zero": false},
          "axis": {"orient": "bottom", "values": [1400,1500,1600,1700,1900,2000,2100,2200,2400,2500,2600,2700,2900,3000,3100,3200,3400,3500,3600,3700,3900], "tickSize": -3.5, "labels": false, "title": null}},
    "y": {"field": "n", "type": "quantitative", "scale": {"domain": [-0.2, 6.24], "nice": false, "zero": false},
          "axis": {"orient": "left", "values": [0.5,1.5,2.5,3.5,4.5,5.5], "tickSize": -3.5, "labels": false, "title": null}}
   }},
  {"data": {"name": "n4"},
   "mark": {"type": "point", "opacity": 0, "clip": true},
   "encoding": {
    "x": {"field": "x", "type": "quantitative", "scale": {"domain": [1300, 4000], "nice": false, "zero": false},
          "axis": {"orient": "top", "values": [1400,1500,1600,1700,1900,2000,2100,2200,2400,2500,2600,2700,2900,3000,3100,3200,3400,3500,3600,3700,3900], "tickSize": -3.5, "labels": false, "title": null}},
    "y": {"field": "n", "type": "quantitative", "scale": {"domain": [0, 602], "nice": false, "zero": false},
          "axis": {"orient": "right", "values": [50,100,150,250,300,350,450,500,550], "tickSize": -3.5, "labels": false, "title": null}}
   }}
 ]
},
{
 "width": 459, "height": 291,
 "resolve": {"scale": {"y": "independent"}, "axis": {"x": "independent", "y": "independent"}},
 "layer": [
  {"data": {"name": "s5"},
   "mark": {"type": "area", "opacity": 0.75, "clip": true},
   "encoding": {
    "x": {"field": "x", "type": "quantitative", "scale": {"domain": [995, 3105], "nice": false, "zero": false},
          "axis": {"orient": "bottom", "values": [1000,1500,2000,2500,3000], "tickSize": -7, "labelPadding": 12, "format": "d", "title": "λ[Å]", "titlePadding": 4}},
    "y": {"field": "lo", "type": "quantitative", "scale": {"domain": [0.53, 6.25], "nice": false, "zero": false},
          "axis": {"orient": "left", "values": [1,2,3,4,5,6], "tickSize": -7, "labelPadding": 13, "format": "d", "title": "fλ [arbitrary units]", "titlePadding": 4}},
    "y2": {"field": "hi"},
    "color": {"datum": "z=2.03-5.42", "type": "nominal", "scale": {"range": ["#0000ff"]},
              "legend": {"title": null, "orient": "top-right", "offset": 10, "symbolType": "square", "symbolSize": 196, "symbolOpacity": 1, "symbolStrokeWidth": 0, "labelFontSize": 21, "labelOffset": 32, "symbolOffset": 14, "padding": 8, "strokeColor": "#d0d0d0", "cornerRadius": 4, "fillColor": "white"}}
   }},
  {"data": {"name": "s5"},
   "mark": {"type": "line", "color": "black", "strokeWidth": 3.5, "clip": true},
   "encoding": {
    "x": {"field": "x", "type": "quantitative", "scale": {"domain": [995, 3105], "nice": false, "zero": false}, "axis": null},
    "y": {"field": "y", "type": "quantitative", "scale": {"domain": [0.53, 6.25], "nice": false, "zero": false}, "axis": null}
   }},
  {"data": {"name": "n5"},
   "mark": {"type": "line", "color": "#0000ff", "opacity": 0.5, "strokeWidth": 3, "strokeDash": [12, 6], "clip": true},
   "encoding": {
    "x": {"field": "x", "type": "quantitative", "scale": {"domain": [995, 3105], "nice": false, "zero": false},
          "axis": {"orient": "top", "values": [1000,1500,2000,2500,3000], "tickSize": -7, "labels": false, "title": null}},
    "y": {"field": "n", "type": "quantitative", "scale": {"domain": [0, 600], "nice": false, "zero": false},
          "axis": {"orient": "right", "values": [0,200,400,600], "tickSize": -7, "labelPadding": 11, "format": "d", "title": "Nobj", "titleAngle": 270, "titleBaseline": "top", "titlePadding": 10}}
   }},
  {"data": {"name": "n5"},
   "mark": {"type": "point", "opacity": 0, "clip": true},
   "encoding": {
    "x": {"field": "x", "type": "quantitative", "scale": {"domain": [995, 3105], "nice": false, "zero": false},
          "axis": {"orient": "bottom", "values": [1100,1200,1300,1400,1600,1700,1800,1900,2100,2200,2300,2400,2600,2700,2800,2900], "tickSize": -3.5, "labels": false, "title": null}},
    "y": {"field": "n", "type": "quantitative", "scale": {"domain": [0.53, 6.25], "nice": false, "zero": false},
          "axis": {"orient": "left", "values": [1.5,2.5,3.5,4.5,5.5], "tickSize": -3.5, "labels": false, "title": null}}
   }},
  {"data": {"name": "n5"},
   "mark": {"type": "point", "opacity": 0, "clip": true},
   "encoding": {
    "x": {"field": "x", "type": "quantitative", "scale": {"domain": [995, 3105], "nice": false, "zero": false},
          "axis": {"orient": "top", "values": [1100,1200,1300,1400,1600,1700,1800,1900,2100,2200,2300,2400,2600,2700,2800,2900], "tickSize": -3.5, "labels": false, "title": null}},
    "y": {"field": "n", "type": "quantitative", "scale": {"domain": [0, 600], "nice": false, "zero": false},
          "axis": {"orient": "right", "values": [50,100,150,250,300,350,450,500,550], "tickSize": -3.5, "labels": false, "title": null}}
   }}
 ]
},
{
 "width": 459, "height": 291,
 "data": {"name": "alpha"},
 "resolve": {"axis": {"x": "independent", "y": "independent"}},
 "layer": [
  {"mark": {"type": "point", "shape": "M0,-1L0.55,0L0,1L-0.55,0Z", "size": 600, "filled": true, "stroke": "black", "strokeWidth": 1, "opacity": 1},
   "encoding": {
    "x": {"field": "r", "type": "ordinal", "scale": {"type": "point", "domain": ["2200-5100Å","2200-4200Å","1700-3800Å","1350-3100Å"], "padding": 0.5},
          "axis": {"orient": "bottom", "tickSize": -7, "labelPadding": 12, "labelFontSize": 20, "labelAngle": 0, "title": "λ[Å]", "titlePadding": 4}},
    "y": {"field": "a", "type": "quantitative", "scale": {"domain": [-1.6, -1.2], "nice": false, "zero": false},
          "axis": {"orient": "left", "values": [-1.6,-1.5,-1.4,-1.3,-1.2], "tickSize": -7, "labelPadding": 17, "format": ".1f", "title": "αλ", "titlePadding": 8}},
    "color": {"field": "z", "type": "nominal",
              "scale": {"domain": ["z=0.13-0.77","z=0.77-1.12","z=1.12-1.52","z=1.52-2.03","z=2.03-5.43"], "range": ["#ff0000","#ffd700","#7cfc00","#00ffff","#0000ff"]},
              "legend": {"title": null, "orient": "top-left", "offset": 7, "columns": 2, "symbolType": "square", "symbolSize": 169, "symbolStrokeColor": "black", "symbolStrokeWidth": 1, "symbolOpacity": 1, "labelFontSize": 16, "labelOffset": 22, "symbolOffset": 8, "columnPadding": 40, "rowPadding": 5, "padding": 7, "strokeColor": "#d0d0d0", "cornerRadius": 4, "fillColor": "white"}}
   }},
  {"mark": {"type": "point", "opacity": 0},
   "encoding": {
    "x": {"field": "r", "type": "ordinal", "scale": {"type": "point", "domain": ["2200-5100Å","2200-4200Å","1700-3800Å","1350-3100Å"], "padding": 0.5},
          "axis": {"orient": "top", "tickSize": -7, "labels": false, "title": null}},
    "y": {"field": "a", "type": "quantitative", "scale": {"domain": [-1.6, -1.2], "nice": false, "zero": false},
          "axis": {"orient": "right", "values": [-1.6,-1.5,-1.4,-1.3,-1.2], "tickSize": -7, "labels": false, "title": null}}
   }},
  {"mark": {"type": "point", "opacity": 0},
   "encoding": {
    "x": {"field": "r", "type": "ordinal", "scale": {"type": "point", "domain": ["2200-5100Å","2200-4200Å","1700-3800Å","1350-3100Å"], "padding": 0.5}, "axis": null},
    "y": {"field": "a", "type": "quantitative", "scale": {"domain": [-1.6, -1.2], "nice": false, "zero": false},
          "axis": {"orient": "left", "values": [-1.55,-1.45,-1.35,-1.25], "tickSize": -3.5, "labels": false, "title": null}}
   }},
  {"mark": {"type": "point", "opacity": 0},
   "encoding": {
    "x": {"field": "r", "type": "ordinal", "scale": {"type": "point", "domain": ["2200-5100Å","2200-4200Å","1700-3800Å","1350-3100Å"], "padding": 0.5}, "axis": null},
    "y": {"field": "a", "type": "quantitative", "scale": {"domain": [-1.6, -1.2], "nice": false, "zero": false},
          "axis": {"orient": "right", "values": [-1.55,-1.45,-1.35,-1.25], "tickSize": -3.5, "labels": false, "title": null}}
   }}
 ]
}
]
}
